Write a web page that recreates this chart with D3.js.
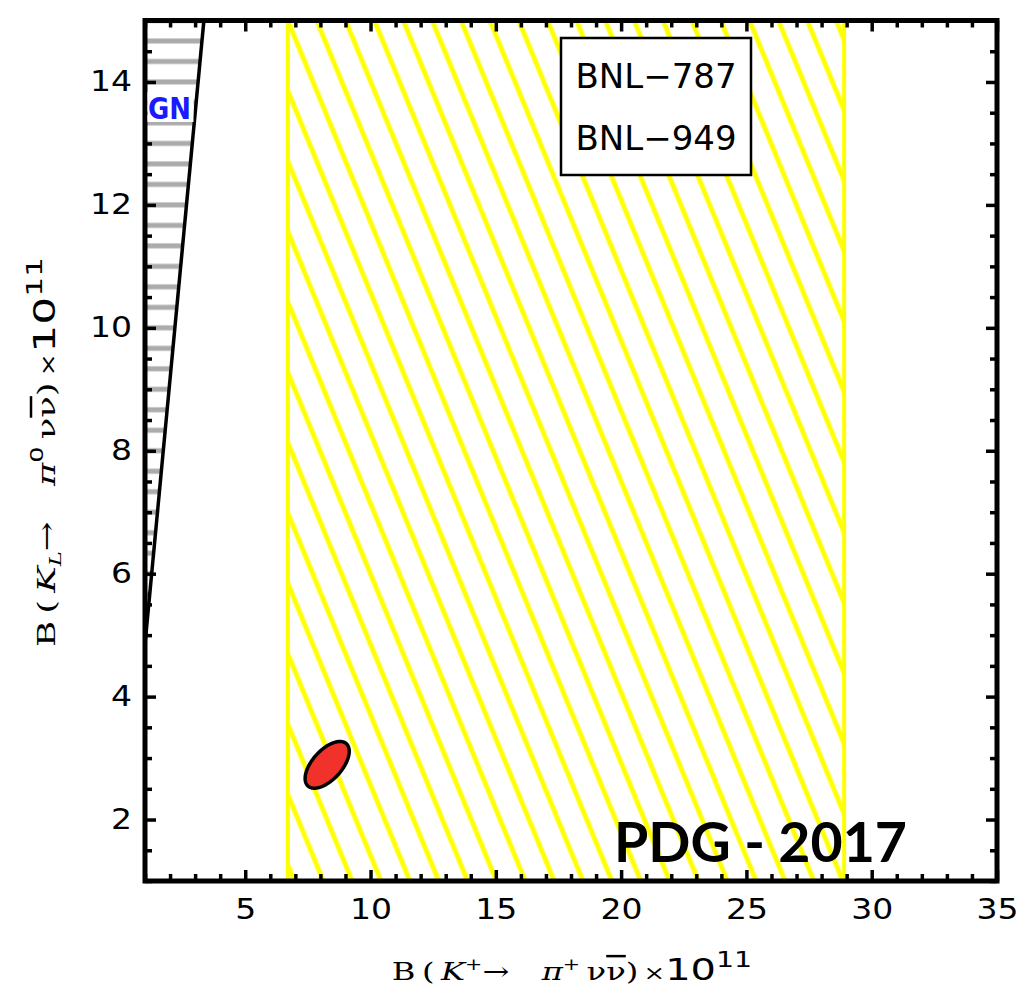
<!DOCTYPE html>
<html>
<head>
<meta charset="utf-8">
<script src="https://cdn.jsdelivr.net/npm/d3@7"></script>
<style>
  body { margin: 0; background: #fff; }
  svg { display: block; }
</style>
</head>
<body>
<svg id="chart" width="1020" height="991"></svg>
<script>
// Axis domains and ticks
const xDomain = [1, 35];
const yDomain = [1, 15];
const xMajorTicks = [5, 10, 15, 20, 25, 30, 35];
const yMajorTicks = [2, 4, 6, 8, 10, 12, 14];
const xMinorStep = 1;
const yMinorStep = 0.5;

// BNL-787 / BNL-949 allowed range for B(K+ -> pi+ nu nubar) x 1e11
const bnlRange = [6.7, 28.9];
const bnlLabels = ["BNL\u2212787", "BNL\u2212949"];

// Grossman-Nir bound (line endpoints in data units)
const gnBoundX = [1.0, 3.35];
const gnBoundY = [4.85, 15];
const gnLabel = "GN";

// Standard Model prediction: centre, widths and correlation of the error ellipse
const smCenter = [8.27, 2.89];
const smSigma = [0.88, 0.38];
const smRho = 0.58;

const stampLabel = "PDG - 2017";

// ---------------------------------------------------------------------------
const svg = d3.select("#chart");
const x = d3.scaleLinear().domain(xDomain).range([145, 997]);
const y = d3.scaleLinear().domain(yDomain).range([881, 20.5]);

const defs = svg.append("defs");
defs.append("clipPath").attr("id", "plotClip")
  .append("rect")
  .attr("x", x(xDomain[0])).attr("y", y(yDomain[1]))
  .attr("width", x(xDomain[1]) - x(xDomain[0]))
  .attr("height", y(yDomain[0]) - y(yDomain[1]));

// diagonal yellow hatching for the BNL band
const hatchGap = 26.7, hatchAngle = -22.3;
const hatch = defs.append("pattern").attr("id", "bnlHatch")
  .attr("patternUnits", "userSpaceOnUse")
  .attr("width", hatchGap).attr("height", hatchGap)
  .attr("patternTransform", `translate(${x(bnlRange[0])},${y(yDomain[1])}) rotate(${hatchAngle})`);
[0, hatchGap].forEach(px => hatch.append("line")
  .attr("x1", px).attr("x2", px).attr("y1", -2).attr("y2", hatchGap + 2)
  .attr("stroke", "#ffff00").attr("stroke-width", 4.8));

// horizontal grey striping for the Grossman-Nir excluded region
const stripeGap = y(14) - y(14 + 1 / 3);
const stripes = defs.append("pattern").attr("id", "gnStripes")
  .attr("patternUnits", "userSpaceOnUse")
  .attr("width", 20).attr("height", stripeGap)
  .attr("patternTransform", `translate(0,${y(14)})`);
[0, stripeGap].forEach(py => stripes.append("line")
  .attr("x1", -2).attr("x2", 22).attr("y1", py).attr("y2", py)
  .attr("stroke", "#ababab").attr("stroke-width", 5));

const plot = svg.append("g").attr("clip-path", "url(#plotClip)");

// BNL band
plot.append("rect")
  .attr("x", x(bnlRange[0])).attr("y", y(yDomain[1]))
  .attr("width", x(bnlRange[1]) - x(bnlRange[0]))
  .attr("height", y(yDomain[0]) - y(yDomain[1]))
  .attr("fill", "url(#bnlHatch)");
plot.selectAll("line.bnlEdge").data(bnlRange).join("line")
  .attr("class", "bnlEdge")
  .attr("x1", d => x(d)).attr("x2", d => x(d))
  .attr("y1", y(yDomain[0])).attr("y2", y(yDomain[1]))
  .attr("stroke", "#ffff00").attr("stroke-width", 4);

// Grossman-Nir excluded region and its boundary
const gnPts = [[gnBoundX[0], gnBoundY[0]], [gnBoundX[1], gnBoundY[1]], [xDomain[0], yDomain[1]], [xDomain[0], gnBoundY[0]]];
plot.append("path")
  .attr("d", d3.line().x(d => x(d[0])).y(d => y(d[1]))(gnPts) + "Z")
  .attr("fill", "url(#gnStripes)");
plot.append("path")
  .attr("d", d3.line().x(d => x(d[0])).y(d => y(d[1]))(gnBoundX.map((v, i) => [v, gnBoundY[i]])))
  .attr("fill", "none").attr("stroke", "#000").attr("stroke-width", 3.5);

// SM error ellipse
const ellipsePts = d3.range(0, 2 * Math.PI + 0.001, Math.PI / 90).map(t => [
  smCenter[0] + smSigma[0] * Math.cos(t),
  smCenter[1] + smSigma[1] * (smRho * Math.cos(t) + Math.sqrt(1 - smRho * smRho) * Math.sin(t))
]);
plot.append("path")
  .attr("d", d3.line().x(d => x(d[0])).y(d => y(d[1]))(ellipsePts) + "Z")
  .attr("fill", "#f0322a").attr("stroke", "#000").attr("stroke-width", 3.5);

// ticks on all four sides, pointing inward
const xMinor = d3.range(xDomain[0], xDomain[1] + 1e-9, xMinorStep).filter(v => !xMajorTicks.includes(v));
const yMinor = d3.range(yDomain[0], yDomain[1] + 1e-9, yMinorStep).filter(v => !yMajorTicks.includes(v));
const fontTicks = "'DejaVu Sans', sans-serif";
const labelStretch = 1.18;

function styleAxis(g) {
  g.select(".domain").remove();
  g.selectAll(".tick line").attr("stroke", "#000").attr("stroke-width", 3.5);
  g.selectAll(".tick text").attr("fill", "#000")
    .style("font-family", fontTicks).style("font-size", "28px");
}
const majorLen = 11, minorLen = 7;
const yb = y(yDomain[0]), yt = y(yDomain[1]), xl = x(xDomain[0]), xr = x(xDomain[1]);

svg.append("g").attr("transform", `translate(0,${yb})`)
  .call(d3.axisBottom(x).tickValues(xMajorTicks).tickSize(-majorLen).tickPadding(18).tickFormat(d3.format("d")))
  .call(styleAxis)
  .call(g => g.selectAll(".tick text").attr("transform", `scale(${labelStretch},1)`));
svg.append("g").attr("transform", `translate(0,${yb})`)
  .call(d3.axisBottom(x).tickValues(xMinor).tickSize(-minorLen).tickFormat(""))
  .call(styleAxis);
svg.append("g").attr("transform", `translate(0,${yt})`)
  .call(d3.axisTop(x).tickValues(xMajorTicks).tickSize(-majorLen).tickFormat(""))
  .call(styleAxis);
svg.append("g").attr("transform", `translate(0,${yt})`)
  .call(d3.axisTop(x).tickValues(xMinor).tickSize(-minorLen).tickFormat(""))
  .call(styleAxis);
svg.append("g").attr("transform", `translate(${xl},0)`)
  .call(d3.axisLeft(y).tickValues(yMajorTicks).tickSize(-majorLen).tickPadding(11).tickFormat(d3.format("d")))
  .call(styleAxis)
  .call(g => g.selectAll(".tick text").attr("transform", `scale(${labelStretch},1)`));
svg.append("g").attr("transform", `translate(${xl},0)`)
  .call(d3.axisLeft(y).tickValues(yMinor).tickSize(-minorLen).tickFormat(""))
  .call(styleAxis);
svg.append("g").attr("transform", `translate(${xr},0)`)
  .call(d3.axisRight(y).tickValues(yMajorTicks).tickSize(-majorLen).tickFormat(""))
  .call(styleAxis);
svg.append("g").attr("transform", `translate(${xr},0)`)
  .call(d3.axisRight(y).tickValues(yMinor).tickSize(-minorLen).tickFormat(""))
  .call(styleAxis);

// frame
svg.append("rect")
  .attr("x", xl).attr("y", yt).attr("width", xr - xl).attr("height", yb - yt)
  .attr("fill", "none").attr("stroke", "#000").attr("stroke-width", 5);

// legend box
const legend = svg.append("g");
legend.append("rect")
  .attr("x", 561).attr("y", 38).attr("width", 190).attr("height", 137)
  .attr("fill", "#fff").attr("stroke", "#000").attr("stroke-width", 2.5);
legend.selectAll("text").data(bnlLabels).join("text")
  .attr("x", 656).attr("y", (d, i) => 88 + i * 61.5)
  .attr("text-anchor", "middle")
  .style("font-family", fontTicks).style("font-size", "34px")
  .text(d => d);

// GN label
svg.append("rect").attr("x", 147.5).attr("y", 92).attr("width", 46).attr("height", 30).attr("fill", "#fff");
svg.append("text")
  .attr("x", 148).attr("y", 119)
  .attr("textLength", 43).attr("lengthAdjust", "spacingAndGlyphs")
  .style("font-family", fontTicks).style("font-weight", "bold").style("font-size", "30px")
  .attr("fill", "#1a1aff")
  .text(gnLabel);

// PDG stamp
svg.append("text")
  .attr("x", 614).attr("y", 862)
  .attr("textLength", 293).attr("lengthAdjust", "spacingAndGlyphs")
  .style("font-family", "Lato, 'Open Sans', sans-serif").style("font-weight", "bold").style("font-size", "56px")
  .attr("fill", "#000")
  .text(stampLabel);

// axis titles
const serif = "'DejaVu Serif', serif";
function buildTitle(t, parts) {
  parts.forEach(p => {
    const s = t.append("tspan").text(p.t)
      .style("font-family", p.f || serif)
      .style("font-size", (p.s || 25) + "px");
    if (p.i) s.style("font-style", "italic");
    if (p.dy) s.attr("dy", p.dy);
    if (p.o) s.style("text-decoration", "overline");
  });
}
const xtg = svg.append("g").attr("transform", "translate(572,980) scale(1.29,1)");
const xt = xtg.append("text").attr("text-anchor", "middle").attr("fill", "#000");
buildTitle(xt, [
  { t: "B" }, { t: "\u2009(\u2009" }, { t: "K", i: true },
  { t: "+", s: 16, dy: -10 }, { t: "\u2192", dy: 10 }, { t: "\u2002\u2002\u03C0", i: true },
  { t: "+", s: 16, dy: -10 }, { t: "\u2009\u03BD", dy: 10 }, { t: "\u03BD", o: true },
  { t: ")" }, { t: "\u2009\u00D7", s: 20 },
  { t: "10", f: fontTicks, s: 31 }, { t: "11", f: fontTicks, s: 22, dy: -13 }
]);

const ytg = svg.append("g").attr("transform", "translate(55,452) rotate(-90) scale(1.42,1)");
const ytt = ytg.append("text").attr("text-anchor", "middle").attr("fill", "#000");
buildTitle(ytt, [
  { t: "B" }, { t: "\u2009(\u2009" }, { t: "K", i: true },
  { t: "L", s: 16, dy: 6, i: true }, { t: "\u2192", dy: -6 }, { t: "\u2002\u2002\u03C0", i: true },
  { t: "0", s: 18, dy: -12, f: fontTicks }, { t: "\u2009\u03BD", dy: 12 }, { t: "\u03BD", o: true },
  { t: ")" }, { t: "\u2009\u00D7", s: 20 },
  { t: "10", f: fontTicks, s: 31 }, { t: "11", f: fontTicks, s: 22, dy: -13 }
]);
</script>
</body>
</html>
